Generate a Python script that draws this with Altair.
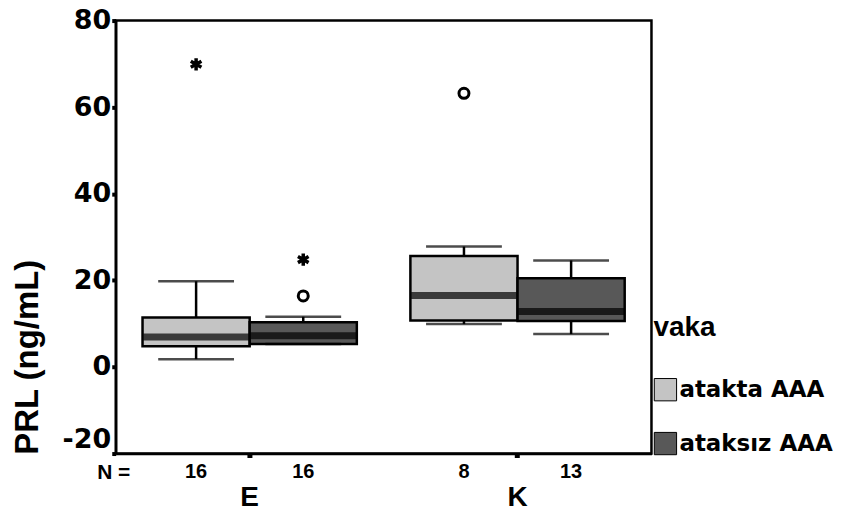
import altair as alt
import pandas as pd

# ---- data ----
cats = ["E", "E", "K", "K"]
vaka = ["atakta AAA", "ataksız AAA", "atakta AAA", "ataksız AAA"]
counts = [16, 16, 8, 13]
w_low = [1.8, 5.3, 9.9, 7.6]
q1 = [4.8, 5.3, 10.7, 10.6]
median = [6.9, 7.2, 16.5, 12.8]
q3 = [11.4, 10.3, 25.6, 20.5]
w_high = [19.8, 11.6, 27.8, 24.6]

out_cats = ["E", "E", "E", "K"]
out_vaka = ["atakta AAA", "ataksız AAA", "ataksız AAA", "atakta AAA"]
out_vals = [69.9, 24.8, 16.4, 63.2]
out_kind = ["extreme", "extreme", "outlier", "outlier"]

y_ticks = [-20, 0, 20, 40, 60, 80]
vaka_order = ["atakta AAA", "ataksız AAA"]
colors = ["#c4c4c4", "#585858"]
FONT = "Liberation Sans"
WIDE = "DejaVu Sans"

box = pd.DataFrame({"cat": cats, "vaka": vaka, "n": counts, "wlo": w_low,
                    "q1": q1, "med": median, "q3": q3, "whi": w_high})
outs = pd.DataFrame({"cat": out_cats, "vaka": out_vaka, "val": out_vals, "kind": out_kind})
nlab = pd.DataFrame({"t": ["N ="]})

x_enc = alt.X("cat:N", scale=alt.Scale(paddingInner=0.2, paddingOuter=0.1),
              axis=alt.Axis(title=None, labelAngle=0, labelFontSize=28, labelFont=FONT,
                            labelFontWeight="bold", labelColor="black",
                            tickSize=4, tickWidth=5, tickColor="black",
                            labelPadding=40, labelBaseline="middle",
                            domainColor="black", domainWidth=2.5))
xo_enc = alt.XOffset("vaka:N", sort=vaka_order,
                     scale=alt.Scale(domain=vaka_order, paddingInner=0, paddingOuter=0))
y_scale = alt.Scale(domain=[-20, 80], nice=False, zero=False)
y_axis = alt.Axis(title="PRL (ng/mL)", values=y_ticks, grid=False, titleFontSize=33,
                  titleFont=FONT, titleFontWeight="bold", titleColor="black",
                  titleAngle=-90, titleX=-88, titleY=337, titleAlign="center",
                  titleBaseline="middle",
                  labelFontSize=27, labelFont=WIDE, labelFontWeight="bold",
                  labelColor="black", labelPadding=1, tickSize=4, tickWidth=4,
                  labelExpr="datum.value < 0 ? '-' + abs(datum.value) : '' + datum.value",
                  labelBaseline={"expr": "datum.value == -20 ? 'bottom' : 'middle'"},
                  tickColor="black", domainColor="black", domainWidth=2.5)

base = alt.Chart(box)

whisk_lo = base.mark_rule(color="black", strokeWidth=2.5).encode(
    x=x_enc, xOffset=xo_enc, y=alt.Y("wlo:Q", scale=y_scale, axis=y_axis), y2="q1:Q")
whisk_hi = base.mark_rule(color="black", strokeWidth=2.5).encode(
    x=x_enc, xOffset=xo_enc, y=alt.Y("q3:Q", scale=y_scale, axis=y_axis), y2="whi:Q")

boxes = base.mark_bar(stroke="black", strokeWidth=2.5).encode(
    x=x_enc, xOffset=xo_enc,
    y=alt.Y("q1:Q", scale=y_scale, axis=y_axis), y2="q3:Q",
    fill=alt.Fill("vaka:N", sort=vaka_order,
                  scale=alt.Scale(domain=vaka_order, range=colors),
                  legend=alt.Legend(title="vaka", orient="none", legendX=539, legendY=294,
                                    titleFontSize=28, titleFont=FONT, titleFontWeight="bold",
                                    titleColor="black", titlePadding=36,
                                    labelFontSize=23, labelFont=WIDE, labelFontWeight="bold",
                                    labelColor="black", labelLimit=300, labelOffset=2,
                                    symbolType="square", symbolSize=500,
                                    symbolStrokeColor="black", symbolStrokeWidth=1,
                                    rowPadding=26, padding=0)))

meds = base.mark_tick(color="black", size=106, thickness=7).encode(
    x=x_enc, xOffset=xo_enc, y=alt.Y("med:Q", scale=y_scale, axis=y_axis))
cap_hi = base.mark_tick(color="black", size=76, thickness=2.5).encode(
    x=x_enc, xOffset=xo_enc, y=alt.Y("whi:Q", scale=y_scale, axis=y_axis))
cap_lo = base.mark_tick(color="black", size=76, thickness=2.5).encode(
    x=x_enc, xOffset=xo_enc, y=alt.Y("wlo:Q", scale=y_scale, axis=y_axis))

ncount = base.mark_text(fontSize=20, font=FONT, fontWeight="bold", color="black",
                        baseline="middle").encode(
    x=x_enc, xOffset=xo_enc, y=alt.value(453), text="n:Q")

nhead = alt.Chart(nlab).mark_text(fontSize=21, font=FONT, fontWeight="bold",
                                  color="black", baseline="middle").encode(
    x=alt.value(-2), y=alt.value(454), text="t:N")

star_path = "M0,-1L0,1M-0.87,-0.5L0.87,0.5M-0.87,0.5L0.87,-0.5"
stars = alt.Chart(outs).transform_filter(alt.datum.kind == "extreme").mark_point(
    shape=star_path, size=150, filled=False, stroke="black", strokeWidth=3.5, opacity=1).encode(
    x=x_enc, xOffset=xo_enc, y=alt.Y("val:Q", scale=y_scale, axis=y_axis))
circles = alt.Chart(outs).transform_filter(alt.datum.kind == "outlier").mark_point(
    shape="circle", size=100, filled=False, stroke="black", strokeWidth=3, opacity=1).encode(
    x=x_enc, xOffset=xo_enc, y=alt.Y("val:Q", scale=y_scale, axis=y_axis))

chart = alt.layer(whisk_lo, whisk_hi, boxes, meds, cap_hi, cap_lo, stars, circles,
                  ncount, nhead).properties(
    width=537, height=434,
    autosize=alt.AutoSizeParams(type="none"),
    padding={"left": 108, "top": 12, "right": 198, "bottom": 58},
    background="white",
).configure_view(stroke="black", strokeWidth=2.5)

chart.save("out.html", embed_options={"renderer": "svg", "actions": False})
